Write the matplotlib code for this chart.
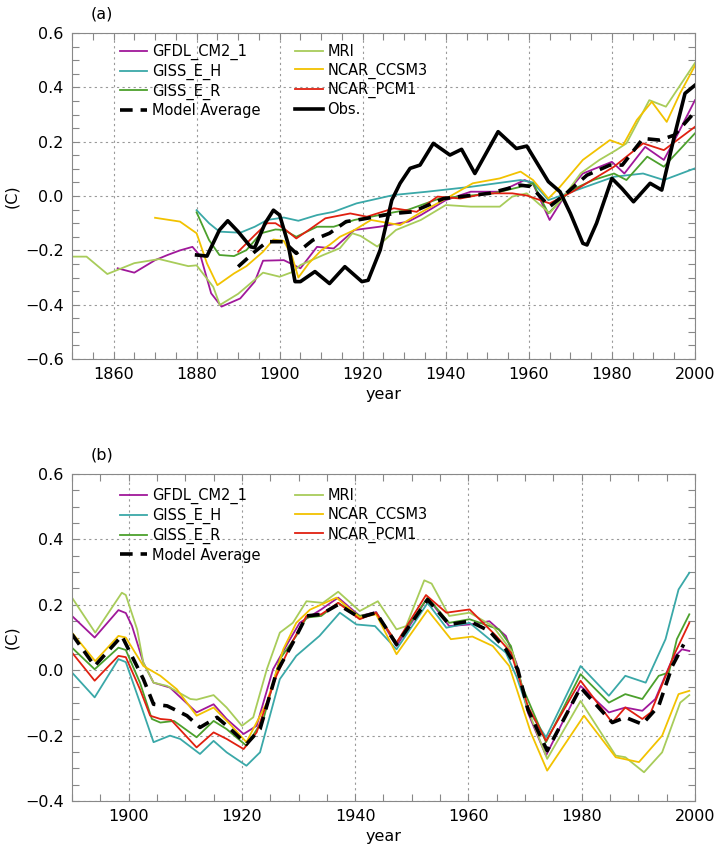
import numpy as np
import matplotlib
matplotlib.use('Agg')
import matplotlib.pyplot as plt
from matplotlib.ticker import MultipleLocator

plt.rcParams['font.family'] = ['DejaVu Sans']

# ---------------- panel (a) ----------------
gfdl_a_yr = [1861, 1865, 1870, 1873, 1876, 1879, 1881, 1883.5, 1886, 1890.5, 1894, 1896, 1901, 1905, 1909, 1913,
             1918, 1924, 1931, 1934, 1940, 1946, 1953, 1959, 1961, 1965, 1969, 1973, 1980, 1983, 1988, 1992.5, 1995.5, 2000]
gfdl_a = [-0.266, -0.282, -0.236, -0.217, -0.20, -0.187, -0.223, -0.358, -0.407, -0.377, -0.315, -0.238, -0.236, -0.266,
          -0.187, -0.193, -0.125, -0.113, -0.094, -0.07, -0.015, 0.016, 0.016, 0.059, 0.045, -0.088, 0.01, 0.083, 0.126,
          0.083, 0.181, 0.133, 0.218, 0.353]

gissh_a_yr = [1880, 1883, 1885.5, 1890.5, 1894, 1897, 1901, 1904.5, 1909, 1913, 1918.5, 1922, 1927.5, 1935.5, 1946,
              1958, 1961, 1964.7, 1971.5, 1980.5, 1987.5, 1992.5, 2000]
gissh_a = [-0.052, -0.10, -0.131, -0.135, -0.113, -0.088, -0.079, -0.091, -0.07, -0.058, -0.027, -0.015, 0.004, 0.016,
           0.034, 0.059, 0.05, -0.015, 0.022, 0.071, 0.083, 0.059, 0.102]

gissr_a_yr = [1880, 1883, 1885.5, 1889, 1892, 1895.5, 1899, 1901, 1904, 1909, 1913, 1918, 1926, 1931, 1938.5, 1951.5,
              1958, 1961, 1964.7, 1970, 1975.5, 1980.5, 1983.5, 1988.5, 1992.5, 2000]
gissr_a = [-0.06, -0.162, -0.217, -0.221, -0.199, -0.137, -0.123, -0.125, -0.15, -0.113, -0.113, -0.088, -0.064, -0.05,
           -0.009, 0.01, 0.034, 0.047, -0.064, 0.02, 0.059, 0.083, 0.059, 0.145, 0.108, 0.231]

avg_a_yr = [1890, 1894, 1897, 1901, 1904, 1908, 1912, 1916, 1919.5, 1927.5, 1932, 1939.5, 1950.5, 1958, 1960.5, 1965,
            1969, 1974, 1979.5, 1982.5, 1987.5, 1991.5, 1995, 2000]
avg_a = [-0.26, -0.205, -0.168, -0.168, -0.211, -0.162, -0.137, -0.094, -0.086, -0.064, -0.058, -0.009, 0.01, 0.04,
         0.035, -0.039, 0.01, 0.077, 0.114, 0.114, 0.212, 0.206, 0.224, 0.31]

mri_a_yr = [1850, 1853.5, 1858.5, 1865, 1871, 1878, 1880, 1884, 1885.6, 1890, 1896, 1900, 1903, 1905, 1910.5, 1914.5,
            1917.5, 1919.5, 1923.5, 1928, 1934, 1940, 1946, 1953, 1956, 1959.5, 1965, 1968.5, 1972.5, 1977, 1981,
            1983.5, 1989, 1993, 2000]
mri_a = [-0.223, -0.223, -0.287, -0.247, -0.232, -0.258, -0.255, -0.334, -0.401, -0.36, -0.282, -0.297, -0.28, -0.254,
         -0.217, -0.192, -0.137, -0.147, -0.186, -0.125, -0.088, -0.033, -0.039, -0.039, -0.002, 0.01, -0.063, 0.0,
         0.084, 0.133, 0.169, 0.194, 0.353, 0.329, 0.49]

ccsm_a_yr = [1870, 1876, 1880, 1882.5, 1885, 1889, 1892, 1896, 1898.5, 1901, 1903, 1904.5, 1907, 1910, 1912, 1914.5,
             1918, 1922, 1929, 1934, 1940, 1946.5, 1953, 1958, 1961, 1964.7, 1967.5, 1973, 1979.5, 1982.7, 1986,
             1989.6, 1993.2, 1996.4, 2000]
ccsm_a = [-0.08, -0.094, -0.137, -0.248, -0.328, -0.285, -0.258, -0.205, -0.16, -0.165, -0.223, -0.30, -0.248, -0.20,
          -0.18, -0.15, -0.125, -0.088, -0.107, -0.06, -0.01, 0.047, 0.065, 0.09, 0.059, -0.009, 0.034, 0.133, 0.206,
          0.188, 0.28, 0.347, 0.273, 0.378, 0.48]

pcm_a_yr = [1890, 1894, 1897, 1899, 1901.5, 1904, 1907, 1911, 1917, 1921, 1927.5, 1933, 1938, 1943.5, 1950, 1956,
            1959.5, 1965, 1970.5, 1980.5, 1987.5, 1992.5, 2000]
pcm_a = [-0.205, -0.144, -0.10, -0.10, -0.125, -0.156, -0.125, -0.082, -0.064, -0.076, -0.045, -0.058, -0.002,
         -0.009, 0.01, 0.01, 0.002, -0.027, 0.016, 0.108, 0.194, 0.169, 0.255]

obs_yr = [1880, 1882.5, 1885.5, 1887.5, 1890, 1893, 1894, 1896.5, 1898.5, 1900, 1902, 1903.7, 1905, 1908.5, 1912,
          1915.7, 1919.8, 1921.3, 1924.2, 1927, 1929, 1931.4, 1933.8, 1937, 1941, 1943.8, 1947, 1952.6, 1957, 1959.5,
          1964.7, 1967.5, 1970, 1973, 1974, 1976.3, 1980, 1982.4, 1985.2, 1989.2, 1992, 1995.2, 1997.6, 2000]
obs = [-0.217, -0.221, -0.125, -0.091, -0.131, -0.187, -0.19, -0.10, -0.052, -0.07, -0.174, -0.315, -0.315, -0.278,
       -0.322, -0.26, -0.315, -0.31, -0.199, -0.015, 0.047, 0.102, 0.114, 0.194, 0.151, 0.172, 0.083, 0.237, 0.175,
       0.184, 0.053, 0.016, -0.064, -0.174, -0.18, -0.10, 0.065, 0.028, -0.021, 0.047, 0.022, 0.231, 0.378, 0.408]

# ---------------- panel (b) ----------------
gfdl_b_yr = [1890, 1894, 1898.2, 1899.5, 1900.6, 1902.6, 1904.4, 1907.3, 1912, 1915, 1917.3, 1920.3, 1922.6, 1925.5,
             1928.5, 1930.2, 1934, 1937, 1940.8, 1943.7, 1947.3, 1952.8, 1956.6, 1960.2, 1963.7, 1966.6, 1968.5, 1970.5,
             1973.7, 1979.8, 1984.8, 1987.7, 1990.7, 1993, 1996, 1997.7, 1999]
gfdl_b = [0.166, 0.10, 0.184, 0.175, 0.135, 0.023, -0.038, -0.053, -0.129, -0.104, -0.149, -0.195, -0.17, 0.003, 0.095,
          0.145, 0.186, 0.222, 0.166, 0.178, 0.074, 0.222, 0.135, 0.14, 0.15, 0.105, 0.02, -0.13, -0.261, -0.048,
          -0.129, -0.114, -0.124, -0.088, 0.034, 0.064, 0.059]

gissh_b_yr = [1890, 1894, 1898.2, 1899.5, 1902, 1904.4, 1907.3, 1909.1, 1912.6, 1915, 1917.3, 1920.8, 1923.2, 1926.7,
              1929.6, 1933.7, 1937.3, 1940.2, 1943.5, 1947.3, 1952.8, 1956.1, 1960.2, 1963.7, 1966.6, 1968.5, 1970.5,
              1973.7, 1979.8, 1984.8, 1987.7, 1991.3, 1994.8, 1997.1, 1999]
gissh_b = [-0.007, -0.083, 0.034, 0.025, -0.099, -0.22, -0.20, -0.21, -0.256, -0.216, -0.251, -0.292, -0.251, -0.027,
           0.044, 0.105, 0.176, 0.14, 0.135, 0.064, 0.206, 0.13, 0.145, 0.095, 0.054, -0.02, -0.12, -0.205, 0.013,
           -0.078, -0.017, -0.038, 0.095, 0.247, 0.298]

gissr_b_yr = [1890, 1894, 1898.2, 1899.5, 1902, 1904.1, 1905.6, 1908, 1912, 1915, 1917.3, 1920.8, 1923.8, 1926.7,
              1929.6, 1931.4, 1934, 1937, 1940.8, 1943.7, 1947.3, 1952.8, 1956.6, 1960.2, 1965.4, 1967.5, 1969.5,
              1973.7, 1979.8, 1984.8, 1987.7, 1990.7, 1993.6, 1995.4, 1996.8, 1999]
gissr_b = [0.069, 0.003, 0.069, 0.062, -0.038, -0.149, -0.16, -0.155, -0.205, -0.155, -0.18, -0.231, -0.149, 0.034,
           0.105, 0.161, 0.166, 0.206, 0.166, 0.176, 0.084, 0.222, 0.145, 0.156, 0.125, 0.074, -0.05, -0.22, -0.012,
           -0.099, -0.073, -0.088, -0.017, -0.007, 0.095, 0.171]

avg_b_yr = [1890, 1894, 1898.8, 1902.6, 1904.4, 1906.8, 1910.3, 1912.6, 1915.6, 1918, 1920.8, 1923.2, 1926.1, 1929,
            1931.4, 1934, 1937, 1940.8, 1943.7, 1947.3, 1952.8, 1956.6, 1960.2, 1963.7, 1966.6, 1968.7, 1970.5,
            1973.9, 1979.8, 1985.4, 1987.7, 1990.7, 1993.6, 1996, 1998]
avg_b = [0.11, 0.013, 0.105, -0.027, -0.104, -0.109, -0.139, -0.175, -0.144, -0.18, -0.226, -0.18, -0.007, 0.084,
         0.166, 0.171, 0.201, 0.161, 0.176, 0.079, 0.216, 0.14, 0.15, 0.12, 0.064, 0.003, -0.12, -0.246, -0.053,
         -0.16, -0.144, -0.165, -0.109, 0.013, 0.079]

mri_b_yr = [1890, 1894.1, 1898.8, 1899.5, 1901.5, 1902.6, 1904.4, 1906.8, 1910.9, 1912, 1915, 1917.3, 1920, 1922,
            1924.4, 1926.7, 1929, 1931.4, 1934.3, 1937, 1940.8, 1944, 1947.3, 1949, 1952.2, 1953.5, 1956.6, 1960.2,
            1964.3, 1967.8, 1970.5, 1973.9, 1979.8, 1986, 1987.7, 1991, 1994.2, 1997.4, 1999]
mri_b = [0.222, 0.115, 0.237, 0.23, 0.125, 0.023, -0.038, -0.048, -0.088, -0.09, -0.076, -0.114, -0.17, -0.144, 0.003,
         0.115, 0.145, 0.211, 0.206, 0.24, 0.181, 0.211, 0.125, 0.135, 0.275, 0.265, 0.166, 0.176, 0.135, 0.054,
         -0.12, -0.271, -0.094, -0.261, -0.266, -0.312, -0.251, -0.099, -0.076]

ccsm_b_yr = [1890, 1894.1, 1898.2, 1899.5, 1902.6, 1905.6, 1908.5, 1912, 1915, 1917.9, 1920.8, 1924.4, 1927.3, 1929.6,
             1932, 1936.7, 1940.8, 1943.7, 1947.3, 1952.8, 1956.9, 1960.7, 1964.3, 1967.2, 1971, 1973.9, 1980.4,
             1986, 1990.1, 1994.2, 1997.1, 1999]
ccsm_b = [0.115, 0.028, 0.105, 0.10, 0.013, -0.017, -0.058, -0.139, -0.114, -0.165, -0.22, -0.099, 0.064, 0.145,
          0.185, 0.222, 0.161, 0.171, 0.049, 0.184, 0.095, 0.103, 0.074, 0.013, -0.19, -0.307, -0.139, -0.266,
          -0.281, -0.20, -0.073, -0.063]

pcm_b_yr = [1890, 1894, 1898.2, 1899.5, 1902, 1903.8, 1905.6, 1907.5, 1912, 1915, 1917.3, 1920.3, 1922.6, 1926.1,
            1928.8, 1931.4, 1934, 1937, 1940.8, 1943.7, 1947.3, 1952.5, 1956.1, 1960.2, 1964.9, 1967.5, 1970.5,
            1973.7, 1979.8, 1985.4, 1987.7, 1990.7, 1992.2, 1996.5, 1999]
pcm_b = [0.054, -0.032, 0.044, 0.04, -0.058, -0.139, -0.149, -0.152, -0.236, -0.19, -0.21, -0.241, -0.19, -0.017,
         0.084, 0.166, 0.171, 0.206, 0.156, 0.176, 0.084, 0.23, 0.176, 0.186, 0.105, 0.054, -0.11, -0.216, -0.032,
         -0.16, -0.114, -0.149, -0.129, 0.054, 0.145]

names = ['GFDL_CM2_1', 'GISS_E_H', 'GISS_E_R', 'MRI', 'NCAR_CCSM3', 'NCAR_PCM1']
colors = ['#A0189A', '#3AA8A8', '#4CA02C', '#A8CC5A', '#F2C200', '#E02010']

fig = plt.figure(figsize=(7.15, 8.5), dpi=100)
ax1 = fig.add_axes([0.1007, 0.5776, 0.8713, 0.3835])
ax2 = fig.add_axes([0.1007, 0.0576, 0.8713, 0.3847])

series_a = [(gfdl_a_yr, gfdl_a), (gissh_a_yr, gissh_a), (gissr_a_yr, gissr_a),
            (mri_a_yr, mri_a), (ccsm_a_yr, ccsm_a), (pcm_a_yr, pcm_a)]
series_b = [(gfdl_b_yr, gfdl_b), (gissh_b_yr, gissh_b), (gissr_b_yr, gissr_b),
            (mri_b_yr, mri_b), (ccsm_b_yr, ccsm_b), (pcm_b_yr, pcm_b)]

def draw(ax, series, avg_yr, avg, with_obs, top):
    h = {}
    for (yr, v), name, c in zip(series, names, colors):
        h[name], = ax.plot(yr, v, color=c, lw=1.3)
    h['avg'], = ax.plot(avg_yr, avg, color='black', lw=2.6, ls=(0, (3.5, 2.2)))
    if with_obs:
        h['obs'], = ax.plot(obs_yr, obs, color='black', lw=2.6)
    handles = [h['GFDL_CM2_1'], h['GISS_E_H'], h['GISS_E_R'], h['avg'],
               h['MRI'], h['NCAR_CCSM3'], h['NCAR_PCM1']]
    labels = ['GFDL_CM2_1', 'GISS_E_H', 'GISS_E_R', 'Model Average',
              'MRI', 'NCAR_CCSM3', 'NCAR_PCM1']
    if with_obs:
        handles.append(h['obs'])
        labels.append('Obs.')
    else:
        handles.insert(7, plt.Line2D([], [], color='none'))
        labels.insert(7, '')
    ax.legend(handles, labels, ncol=2, loc='upper left', bbox_to_anchor=(0.067, top),
              frameon=False, fontsize=10.5, handlelength=1.9, handletextpad=0.3,
              labelspacing=0.25, columnspacing=2.4, borderaxespad=0.0)

draw(ax1, series_a, avg_a_yr, avg_a, True, 0.985)
draw(ax2, series_b, avg_b_yr, avg_b, False, 0.975)

ax1.set_xlim(1850, 2000)
ax1.set_ylim(-0.6, 0.6)
ax2.set_xlim(1890, 2000)
ax2.set_ylim(-0.4, 0.6)

for ax, lab in [(ax1, '(a)'), (ax2, '(b)')]:
    ax.xaxis.set_major_locator(MultipleLocator(20))
    ax.xaxis.set_minor_locator(MultipleLocator(5))
    ax.yaxis.set_major_locator(MultipleLocator(0.2))
    ax.yaxis.set_minor_locator(MultipleLocator(0.05))
    ax.yaxis.set_major_formatter(plt.FuncFormatter(lambda v, p: f'{v:.1f}'.replace('-', '\u2212')))
    ax.tick_params(which='both', direction='in', top=True, right=True, length=5, width=0.8,
                   color='#888888', labelsize=11.5, pad=6)
    ax.grid(True, which='major', ls=(0, (2, 3)), color='#999999', lw=0.8)
    for s in ax.spines.values():
        s.set_color('#888888')
    ax.set_xlabel('year', fontsize=11.5, labelpad=3)
    ax.set_ylabel('(C)', fontsize=11.5)
    ax.yaxis.set_label_coords(-0.085, 0.5)
    ax.text(0.03, 1.045, lab, transform=ax.transAxes, fontsize=11.5)

fig.savefig('out.png', dpi=100)
